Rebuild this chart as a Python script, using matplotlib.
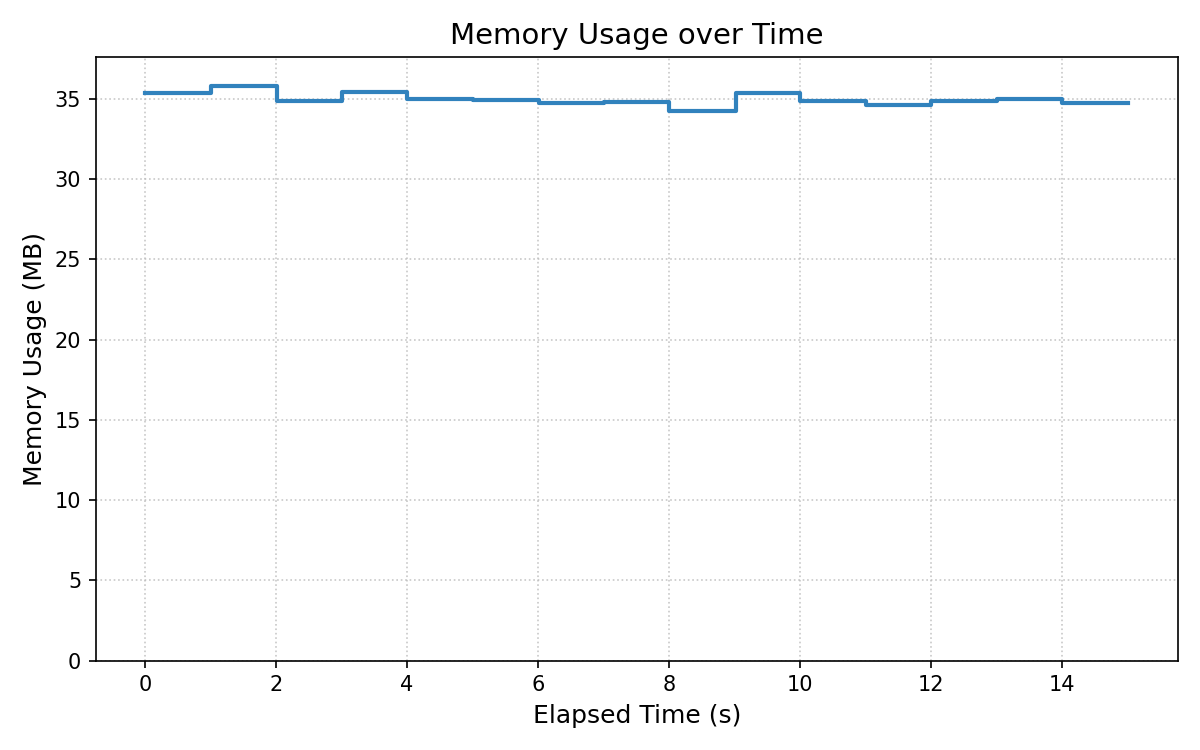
import matplotlib
matplotlib.use("Agg")
import matplotlib.pyplot as plt

# elapsed seconds at each sample and memory use in MB
elapsed = [0.0, 1.01, 2.01, 3.01, 4.0, 5.01, 6.01, 7.01, 8.0, 9.02, 10.0, 11.01, 12.0, 13.0, 14.0, 15.01]
memory_mb = [35.38, 35.81, 34.87, 35.44, 35.0, 34.92, 34.71, 34.81, 34.25, 35.34, 34.83, 34.6, 34.88, 34.98, 34.75, 34.75]

fig, ax = plt.subplots(figsize=(8, 5), dpi=150)
ax.step(elapsed, memory_mb, where="post", color="#3182bd", linewidth=2)

ax.set_title("Memory Usage over Time", fontsize=14)
ax.set_xlabel("Elapsed Time (s)", fontsize=12)
ax.set_ylabel("Memory Usage (MB)", fontsize=12)
ax.set_ylim(0, max(memory_mb) * 1.05)
ax.grid(True, linestyle=":", color="#bbbbbb", alpha=0.8)

fig.tight_layout()
fig.savefig("out.png")
